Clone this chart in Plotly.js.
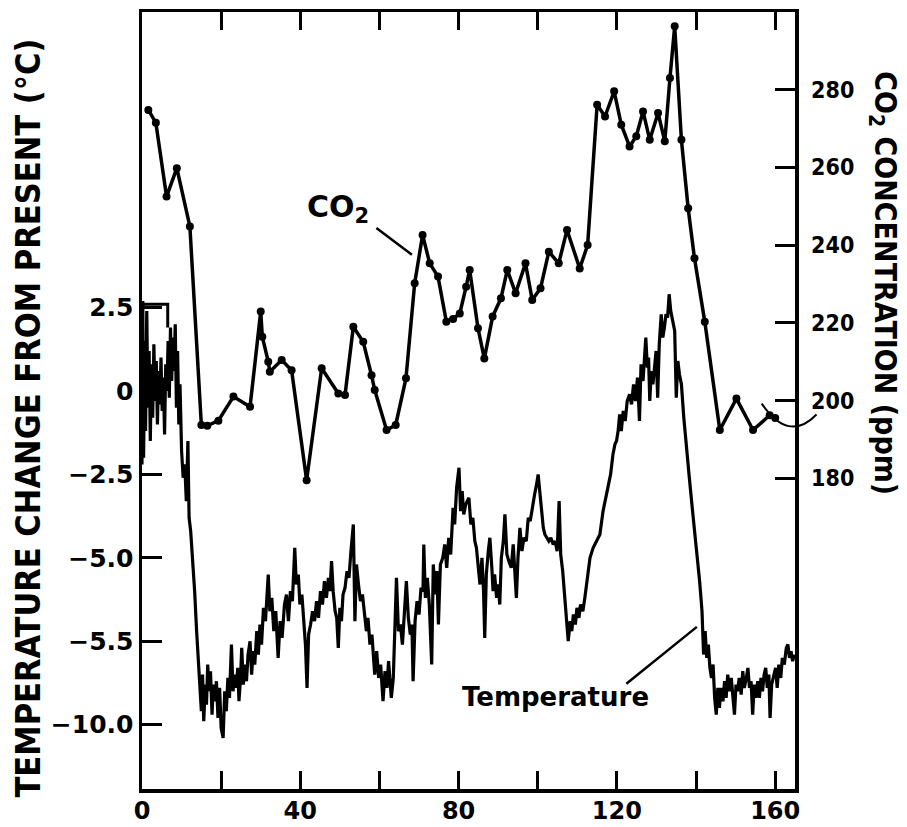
<!DOCTYPE html>
<html>
<head>
<meta charset="utf-8">
<script src="https://cdn.plot.ly/plotly-3.0.1.min.js"></script>
<style>html,body{margin:0;padding:0;background:#fff;}#chart{width:907px;height:827px;}</style>
</head>
<body>
<div id="chart"></div>
<script>
// Age (thousands of years before present) and temperature change from present (°C)
const tempAge = [0.0,0.2,0.4,0.7,0.9,1.2,1.5,1.8,2.1,2.4,2.7,3.0,3.3,3.6,3.9,4.2,4.5,4.8,5.1,5.4,5.7,6.0,6.3,6.6,6.9,7.2,7.5,7.8,8.1,8.4,8.7,9.0,9.3,9.6,10.0,10.4,10.8,11.2,11.6,11.9,12.3,12.8,13.3,13.8,14.3,14.6,15.0,15.3,15.6,16.0,16.3,16.6,17.0,17.3,17.7,18.0,18.4,18.8,19.2,19.6,20.0,20.5,20.9,21.3,21.7,22.1,22.6,23.0,23.4,23.8,24.2,24.5,24.9,25.2,25.6,26.0,26.4,26.8,27.3,27.7,28.1,28.5,29.0,29.4,29.8,30.2,30.7,31.2,31.9,32.3,32.8,33.3,33.8,34.4,34.9,35.4,36.0,36.5,37.0,37.5,38.0,38.6,39.0,39.5,39.9,40.4,40.9,41.3,41.7,42.1,42.6,43.1,43.6,44.1,44.6,45.1,45.6,46.1,46.6,47.1,47.5,47.9,48.3,48.8,49.2,49.6,50.0,50.4,50.8,51.3,51.8,52.3,52.8,53.4,53.8,54.2,54.7,55.2,55.7,56.2,56.7,57.1,57.6,58.1,58.8,59.3,59.8,60.3,60.9,61.4,61.9,62.3,62.6,63.0,63.5,63.9,64.3,64.8,65.3,65.8,66.3,66.8,67.3,67.8,68.2,68.5,69.0,69.5,70.0,70.5,71.0,71.2,71.6,72.1,72.6,73.2,73.6,74.1,74.5,74.9,75.4,76.0,76.5,77.0,77.5,78.0,78.6,79.0,79.5,80.1,80.5,80.9,81.3,81.8,82.6,83.1,83.6,84.1,84.5,85.0,85.4,85.9,86.3,86.6,87.0,87.5,87.9,88.4,88.7,89.1,89.6,90.0,90.4,90.8,91.3,91.7,92.2,92.7,93.3,93.8,94.2,94.6,95.0,95.5,96.0,96.5,97.1,97.6,98.1,98.6,99.2,99.7,100.1,100.5,101.0,101.4,101.8,102.3,102.8,103.3,103.9,104.4,104.9,105.4,105.8,106.3,106.8,107.2,107.7,108.2,108.6,109.0,109.5,109.9,110.4,110.8,111.4,111.9,112.5,113.2,114.0,114.8,115.7,116.5,117.2,117.8,118.4,119.0,119.5,119.9,120.3,120.7,121.1,121.6,122.1,122.6,123.2,123.7,124.2,124.7,125.2,125.7,126.1,126.6,127.0,127.3,127.7,128.0,128.3,128.7,129.1,129.5,129.9,130.3,130.7,131.2,131.6,132.0,132.4,132.8,133.2,133.6,134.0,134.6,135.0,135.4,135.8,136.3,136.9,137.5,138.3,139.2,140.0,140.9,141.5,141.9,142.3,142.7,143.1,143.5,143.9,144.3,144.7,145.1,145.5,145.9,146.3,146.8,147.2,147.6,148.0,148.5,148.9,149.3,149.7,150.1,150.5,150.9,151.4,151.8,152.2,152.7,153.1,153.5,153.9,154.3,154.7,155.1,155.6,156.0,156.4,156.8,157.2,157.6,158.0,158.4,158.7,159.1,159.5,160.1,160.5,160.9,161.4,161.8,162.3,162.8,163.2,163.6,164.0,164.4,164.8];
const tempVal = [-2.2,2.7,-2.0,1.5,-1.2,2.4,-0.5,1.2,-1.5,0.8,-0.8,1.4,-0.3,0.9,-1.0,0.6,-0.4,1.0,-0.6,0.4,-1.3,0.8,0.0,1.5,-0.2,1.9,0.3,1.6,0.6,2.0,-0.5,1.2,-1.0,0.2,-1.8,-2.6,-2.2,-3.3,-1.5,-3.8,-4.2,-5.0,-6.0,-7.2,-8.2,-8.6,-9.6,-8.5,-9.9,-8.8,-9.4,-8.2,-9.0,-8.4,-9.7,-8.8,-9.3,-8.7,-9.8,-8.9,-10.1,-10.4,-9.0,-9.6,-8.6,-9.2,-7.6,-9.0,-8.5,-8.9,-8.3,-9.3,-8.6,-7.7,-8.8,-8.2,-8.7,-7.9,-7.5,-8.5,-7.8,-8.2,-7.2,-7.9,-7.0,-7.6,-6.5,-6.9,-5.5,-6.6,-6.2,-7.2,-6.6,-8.0,-6.9,-7.4,-6.4,-6.1,-6.9,-6.0,-6.3,-4.7,-5.8,-5.5,-6.4,-6.1,-7.0,-7.6,-8.9,-7.3,-7.0,-6.6,-6.9,-6.3,-6.8,-6.0,-6.4,-5.7,-6.2,-5.6,-6.0,-5.1,-6.0,-6.6,-6.8,-7.7,-6.5,-6.9,-6.1,-5.9,-5.4,-5.6,-4.8,-4.0,-6.9,-5.2,-5.8,-6.3,-6.1,-6.6,-7.2,-6.8,-7.6,-7.3,-8.5,-7.8,-8.6,-8.2,-9.3,-8.4,-8.9,-8.1,-8.7,-9.2,-8.6,-7.4,-5.6,-7.2,-7.0,-7.6,-6.6,-5.7,-6.8,-7.3,-7.0,-8.7,-6.9,-6.3,-6.7,-5.9,-6.0,-4.6,-6.2,-5.6,-6.4,-8.2,-5.2,-6.1,-5.4,-7.0,-5.2,-5.0,-4.6,-5.3,-4.4,-4.9,-3.5,-4.0,-2.9,-2.3,-3.6,-3.0,-3.7,-3.4,-3.2,-4.0,-3.8,-4.5,-4.7,-5.3,-5.8,-5.0,-6.0,-7.4,-5.5,-4.8,-4.4,-5.3,-6.0,-5.5,-6.2,-5.8,-6.4,-5.0,-4.5,-3.7,-4.9,-5.1,-5.3,-4.6,-5.5,-6.2,-5.0,-4.1,-4.8,-4.4,-4.5,-3.8,-3.9,-3.5,-3.1,-2.8,-2.5,-3.0,-3.6,-4.1,-4.3,-4.4,-4.5,-4.4,-4.6,-4.5,-4.8,-3.3,-4.9,-5.4,-6.2,-7.0,-7.5,-6.9,-7.2,-6.7,-7.0,-6.5,-6.8,-6.4,-6.6,-6.2,-5.6,-5.0,-4.7,-4.5,-4.3,-3.6,-3.2,-2.9,-2.5,-1.9,-1.6,-1.5,-1.2,-0.7,-1.2,-0.6,-0.9,-0.3,-0.1,-0.4,0.2,-0.3,0.4,-0.9,0.8,0.3,0.9,1.6,0.7,1.0,-0.3,0.6,0.2,0.7,1.2,-0.2,1.4,2.3,1.6,1.9,2.3,2.2,2.9,2.4,2.1,1.8,-0.2,0.9,0.5,0.2,-0.8,-1.7,-2.6,-3.7,-4.6,-5.7,-6.6,-7.9,-7.2,-8.0,-7.6,-8.3,-8.6,-8.2,-9.2,-9.7,-8.9,-9.5,-8.9,-9.3,-8.7,-9.2,-8.5,-9.0,-8.6,-9.1,-9.7,-8.8,-9.0,-8.6,-9.1,-8.4,-8.9,-8.6,-8.3,-8.9,-8.7,-9.7,-8.8,-9.2,-8.7,-9.2,-8.6,-9.0,-8.5,-8.3,-8.9,-8.5,-9.8,-8.8,-8.6,-8.3,-8.9,-8.2,-8.6,-8.0,-8.2,-7.7,-7.6,-8.0,-7.8,-8.1,-7.9];

// Age and CO2 concentration (ppm)
const co2Age = [1.6,3.5,6.2,8.8,12.1,15.0,16.5,19.3,23.1,27.3,30.0,30.4,31.9,32.3,35.3,37.8,41.6,45.4,49.6,51.3,53.4,55.9,58.0,58.8,61.8,64.1,66.7,68.9,70.9,72.7,74.8,76.9,78.6,80.3,81.9,82.8,84.9,86.5,88.6,90.7,92.3,94.4,96.9,98.6,100.7,102.8,105.3,107.4,110.6,112.6,115.0,117.0,119.3,121.1,123.2,124.9,126.6,128.3,130.4,132.1,133.4,134.6,136.3,138.0,139.6,142.2,146.0,150.2,154.4,158.6,160.0];
const co2Val = [274.8,271.5,252.5,259.8,244.8,193.7,193.5,194.8,201.0,198.4,222.9,216.4,210.0,207.4,210.4,207.8,179.5,208.3,201.8,201.4,219.0,215.1,206.5,202.7,192.4,193.7,205.7,230.2,242.6,235.3,231.9,220.3,221.0,222.4,229.3,233.6,218.6,210.8,221.6,226.3,233.6,227.6,235.3,225.9,228.9,238.3,235.3,243.9,234.0,240.0,276.1,273.1,279.6,271.0,265.4,268.0,274.4,267.1,274.0,266.7,283.0,296.3,267.1,249.5,236.6,220.3,192.4,200.5,192.4,196.2,195.5];

// Present-temperature bracket near the left axis
const bracketAge = [0.5,6.5,6.5];
const bracketTemp = [2.6,2.6,1.9];

// Axis ticks
const xTickVals = [0,20,40,60,80,100,120,140,160];
const xTickText = ['0','','40','','80','','120','','160'];
const tTickVals = [2.5,0,-2.5,-5,-7.5,-10];
const tTickText = ['2.5','0','\u22122.5','\u22125.0','\u22125.5','\u221210.0'];
const cTickVals = [180,200,220,240,260,280];
const cTickText = ['180','200','220','240','260','280'];

const COND = '"DejaVu Sans Condensed", "DejaVu Sans", sans-serif';
const WIDE = '"DejaVu Sans", sans-serif';

const traces = [
  {x: tempAge, y: tempVal, type: 'scatter', mode: 'lines', yaxis: 'y',
   line: {color: '#000', width: 3.2}, hoverinfo: 'skip'},
  {x: bracketAge, y: bracketTemp, type: 'scatter', mode: 'lines', yaxis: 'y',
   line: {color: '#000', width: 3}, hoverinfo: 'skip'},
  {x: co2Age, y: co2Val, type: 'scatter', mode: 'lines+markers', yaxis: 'y2',
   line: {color: '#000', width: 3.5}, marker: {color: '#000', size: 8}, hoverinfo: 'skip'}
];

const layout = {
  width: 907, height: 827,
  margin: {l: 142, r: 112, t: 12, b: 38},
  paper_bgcolor: '#fff', plot_bgcolor: '#fff',
  showlegend: false,
  font: {family: WIDE, color: '#000'},
  xaxis: {
    range: [0, 165], showgrid: false, zeroline: false,
    showline: true, linewidth: 3.5, linecolor: '#000', mirror: 'ticks',
    ticks: 'inside', ticklen: 18, tickwidth: 3, tickcolor: '#000',
    tickvals: xTickVals, ticktext: xTickText, ticklabelstandoff: -2,
    tickfont: {family: WIDE, size: 24, weight: 'bold', color: '#000'}
  },
  yaxis: {
    range: [-11.93, 11.36], showgrid: false, zeroline: false,
    showline: true, linewidth: 3.5, linecolor: '#000',
    ticks: 'inside', ticklen: 20, tickwidth: 3, tickcolor: '#000',
    tickvals: tTickVals, ticktext: tTickText,
    tickfont: {family: WIDE, size: 25, weight: 'bold', color: '#000'}
  },
  yaxis2: {
    range: [100, 300], overlaying: 'y', side: 'right',
    showgrid: false, zeroline: false,
    showline: true, linewidth: 3.5, linecolor: '#000',
    ticks: 'inside', ticklen: 20, tickwidth: 3, tickcolor: '#000',
    tickvals: cTickVals, ticktext: cTickText, ticklabelstandoff: 8,
    tickfont: {family: COND, size: 23, weight: 'bold', color: '#000'}
  },
  annotations: [
    {text: 'TEMPERATURE CHANGE FROM PRESENT (°C)', xref: 'paper', yref: 'paper',
     x: -0.1746, y: 0.478, xanchor: 'center', yanchor: 'middle', textangle: -90, showarrow: false,
     font: {family: COND, size: 34, weight: 'bold', color: '#000'}},
    {text: 'CO<sub>2</sub> CONCENTRATION (ppm)', xref: 'paper', yref: 'paper',
     x: 1.1363, y: 0.651, xanchor: 'center', yanchor: 'middle', textangle: 90, showarrow: false,
     font: {family: COND, size: 30, weight: 'bold', color: '#000'}},
    {text: 'CO<sub>2</sub>', xref: 'x', yref: 'y2', x: 49.5, y: 249.5,
     xanchor: 'center', yanchor: 'middle', showarrow: false,
     font: {family: WIDE, size: 30, weight: 'bold', color: '#000'}},
    {text: '', xref: 'x', yref: 'y2', x: 68.2, y: 237.5,
     ax: -37, ay: -28, showarrow: true, arrowhead: 0, arrowwidth: 2.5, arrowcolor: '#000'},
    {text: 'Temperature', xref: 'x', yref: 'y', x: 104.6, y: -9.17,
     xanchor: 'center', yanchor: 'middle', showarrow: false,
     font: {family: WIDE, size: 26, weight: 'bold', color: '#000'}},
    {text: '', xref: 'x', yref: 'y', x: 140.2, y: -7.07,
     ax: -72, ay: 58, showarrow: true, arrowhead: 0, arrowwidth: 2.5, arrowcolor: '#000'}
  ],
  shapes: [
    {type: 'path', xref: 'paper', yref: 'paper',
     path: 'M 0.949 0.496 Q 0.99 0.445 1.033 0.482',
     line: {color: '#000', width: 2}}
  ]
};

Plotly.newPlot('chart', traces, layout, {staticPlot: true, displayModeBar: false});
</script>
</body>
</html>
